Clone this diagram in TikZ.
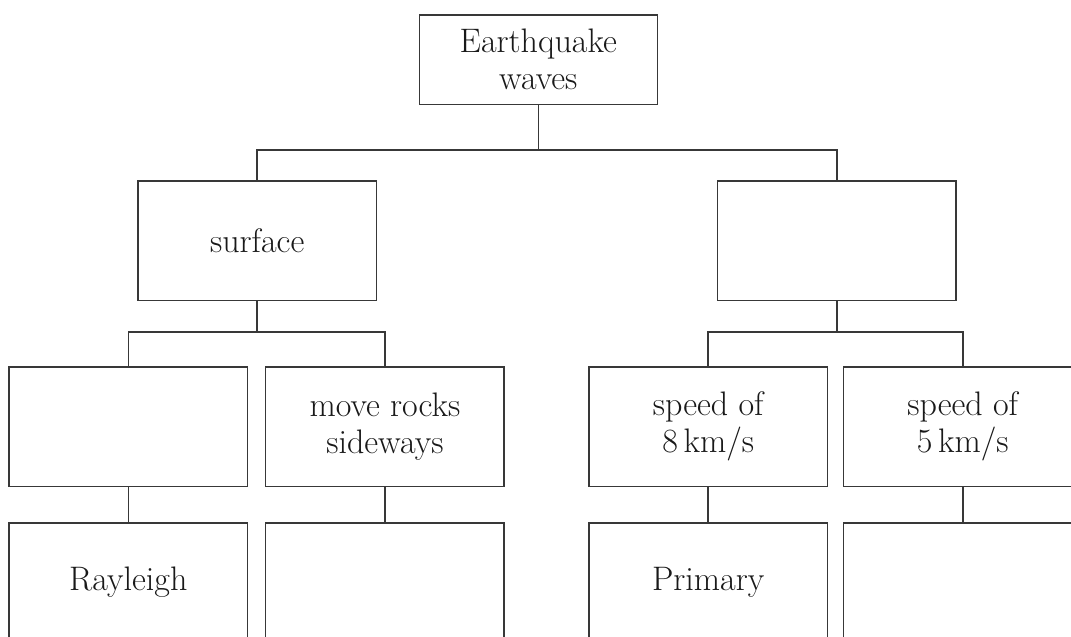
\documentclass[tikz,border=0pt]{standalone}
\usepackage{fontspec}
\begin{document}
\begin{tikzpicture}[x=1pt,y=-1pt,
  wbox/.style={draw=black!78, line width=1.6pt, minimum width=238.5pt, minimum height=119.5pt,
    inner sep=0pt, align=center, text=black!90, font=\fontsize{34}{37}\selectfont},
  link/.style={draw=black!78, line width=1.6pt}]
\clip (0,0) rectangle (1071,637);
\fill[white] (0,0) rectangle (1071,637);
% level 1
\node[wbox, minimum width=238pt, minimum height=89.6pt] (top) at (538.3,59.5) {Earthquake\\waves};
% level 2
\node[wbox] (surf) at (257.2,240.8) {surface};
\node[wbox] (body) at (836.7,240.8) {};
% level 3
\node[wbox] (l3a) at (128.3,426.7) {};
\node[wbox] (l3b) at (384.9,426.7) {move rocks\\sideways};
\node[wbox] (l3c) at (708.2,426.7) {speed of\\8\,km/s};
\node[wbox] (l3d) at (962.7,426.7) {speed of\\5\,km/s};
% level 4
\node[wbox] (l4a) at (128.3,582.5) {Rayleigh};
\node[wbox] (l4b) at (384.9,582.5) {};
\node[wbox] (l4c) at (708.2,582.5) {Primary};
\node[wbox] (l4d) at (962.7,582.5) {};
% junctions
\coordinate (j1) at (538.3,150);
\coordinate (j2) at (257.2,331.7);
\coordinate (j3) at (836.7,331.7);
% connectors
\draw[link] (top.south) -- (j1);
\draw[link] (surf.north) |- (j1) -| (body.north);
\draw[link] (surf.south) -- (j2);
\draw[link] (l3a.north) |- (j2) -| (l3b.north);
\draw[link] (body.south) -- (j3);
\draw[link] (l3c.north) |- (j3) -| (l3d.north);
\draw[link] (l3a.south) -- (l4a.north);
\draw[link] (l3b.south) -- (l4b.north);
\draw[link] (l3c.south) -- (l4c.north);
\draw[link] (l3d.south) -- (l4d.north);
\end{tikzpicture}
\end{document}
